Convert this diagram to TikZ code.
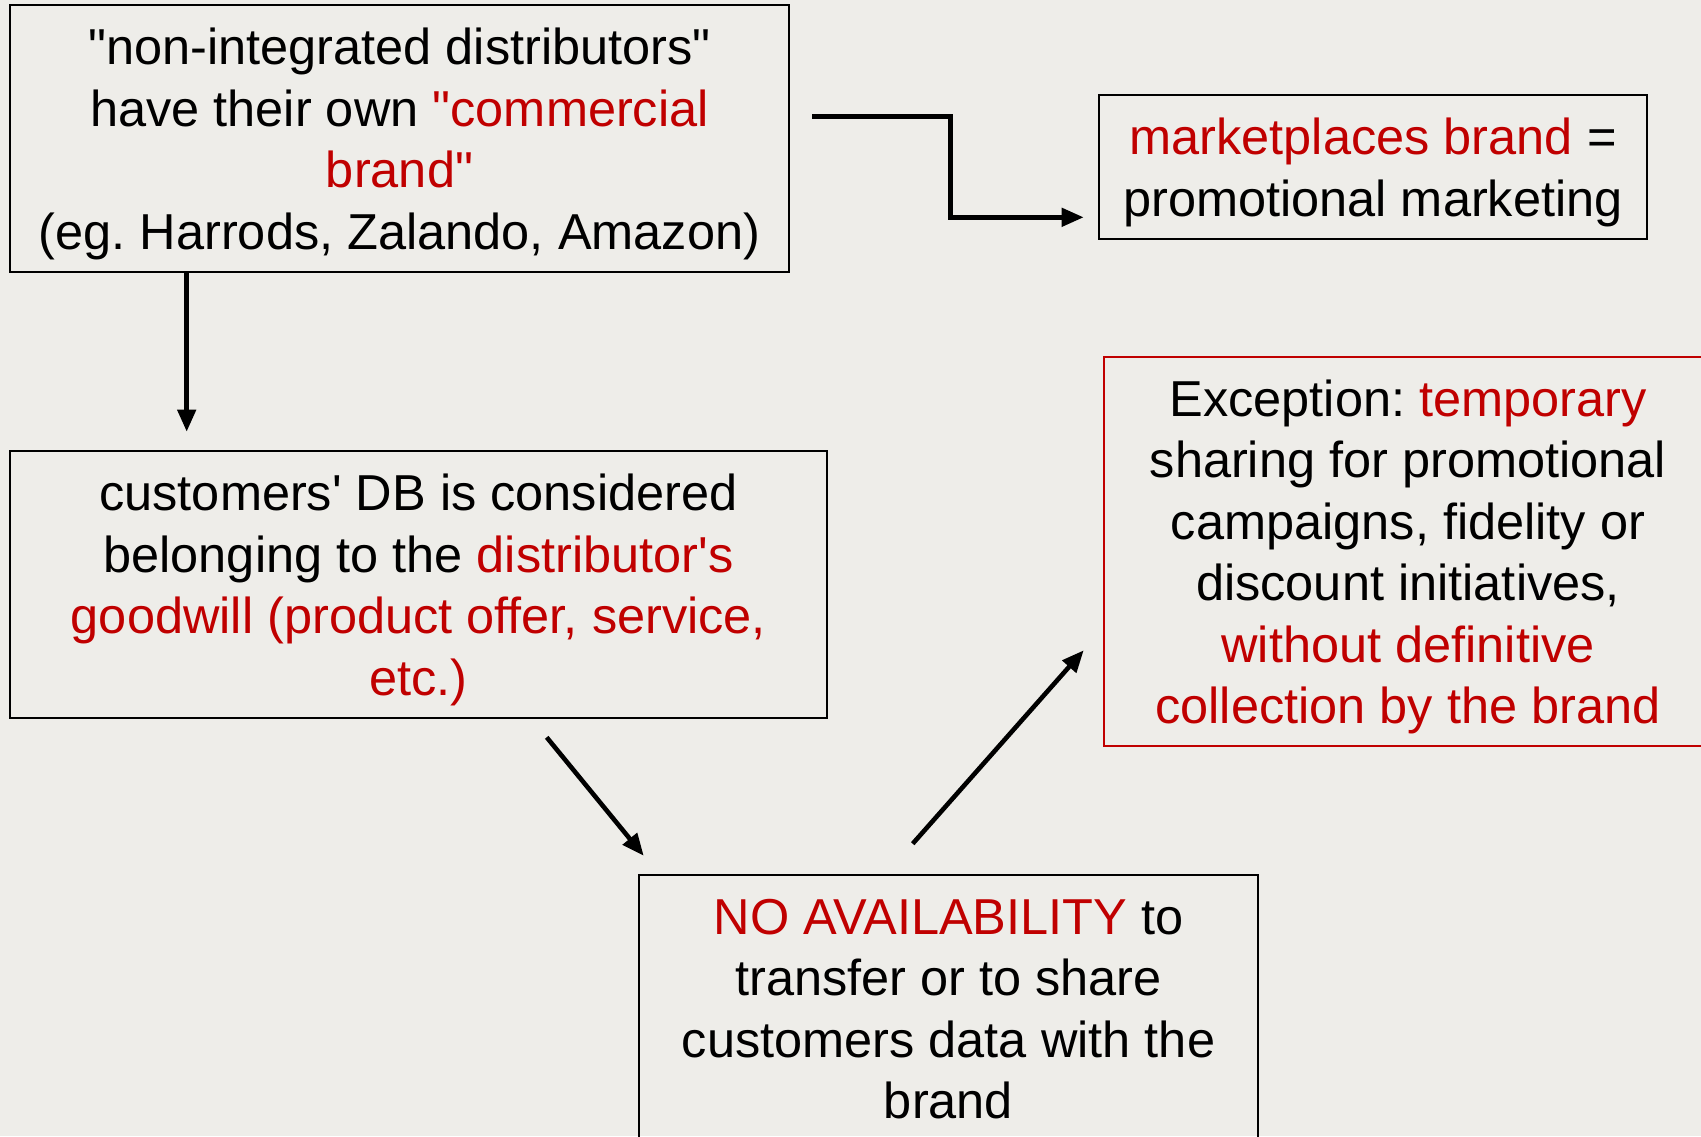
\documentclass[tikz,border=0pt]{standalone}
\usepackage{fontspec}
\setmainfont{Liberation Sans}[Ligatures=TeXOff]
\usetikzlibrary{arrows.meta}
\definecolor{bg}{HTML}{EEEDE9}
\definecolor{dred}{HTML}{C00000}
\newcommand{\hl}[1]{\textcolor{dred}{#1}}
\newcommand{\nodp}[1]{\raisebox{0pt}[\height][0pt]{#1}}
\frenchspacing
\begin{document}
\begin{tikzpicture}[x=1pt,y=-1pt,
  tbox/.style={draw=black, line width=2.6pt, align=center, inner sep=0pt,
    font=\fontsize{50.5}{61.5}\selectfont},
  arr/.style={line width=4.6pt, -{Triangle[width=18pt,length=22pt]}}]
\fill[bg] (0,0) rectangle (1701,1136);
\useasboundingbox (0,0) rectangle (1701,1136);
\clip (0,0) rectangle (1701,1136);

\node[tbox, minimum width=779pt, minimum height=267pt] (b1) at (399.5,138.5)
  {"non-integrated distributors"\\ have their own \hl{"commercial}\\ \hl{brand"}\\ \nodp{(eg. Harrods, Zalando, Amazon)}};
\node[tbox, minimum width=548pt, minimum height=144pt] (b2) at (1373,167)
  {\hl{marketplaces brand} =\\ \nodp{promotional marketing}};
\node[tbox, minimum width=817pt, minimum height=267pt] (b3) at (418.5,584.5)
  {customers' DB is considered\\ belonging to the \hl{distributor's}\\ \hl{goodwill (product offer, service,}\\ \nodp{\hl{etc.)}}};
\node[tbox, draw=dred, minimum width=608pt, minimum height=389pt] (b4) at (1408,551.5)
  {Exception: \hl{temporary}\\ sharing for promotional\\ campaigns, fidelity or\\ discount initiatives,\\ \hl{without definitive}\\ \nodp{\hl{collection by the brand}}};
\node[tbox, minimum width=619pt, minimum height=268pt] (b5) at (948.5,1009)
  {\hl{NO AVAILABILITY} to\\ transfer or to share\\ customers data with the\\ \nodp{brand}};

\draw[arr] ([xshift=178pt]b1.south west) -- ([xshift=178pt,yshift=18pt]b3.north west);
\draw[arr] ([xshift=22pt,yshift=-113pt]b1.north east) -- ++(138,0)
  |- ([xshift=-14pt,yshift=23pt]b2.south west);
\draw[arr] ([xshift=538pt,yshift=-18pt]b3.south west) -- ([xshift=6pt,yshift=18pt]b5.north west);
\draw[arr] ([xshift=275pt,yshift=30pt]b5.north west) -- ([xshift=-19pt,yshift=97pt]b4.south west);
\end{tikzpicture}
\end{document}
